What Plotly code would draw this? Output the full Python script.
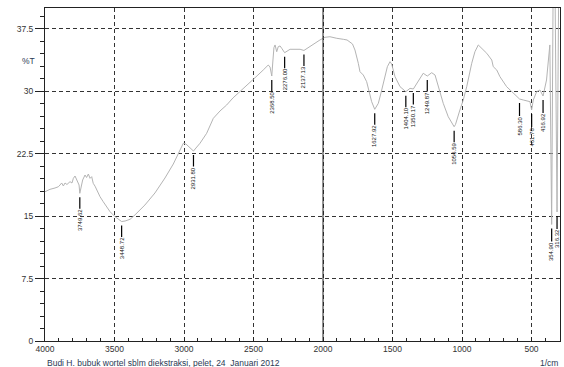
import numpy as np
import plotly.graph_objects as go

# Spectrum (wavenumber 1/cm, %T)
wavenumber = [4000, 3964, 3928, 3904, 3892, 3880, 3868, 3856, 3842, 3820,
              3806, 3796, 3784, 3768, 3755, 3749.6, 3729, 3712, 3701, 3688,
              3676, 3664, 3653, 3640, 3628, 3617, 3604, 3581, 3556, 3532,
              3496, 3460, 3448.7, 3424, 3388, 3353, 3281, 3209, 3137, 3077,
              3029, 3005, 2986, 2957, 2931.8, 2914, 2885, 2837, 2789, 2741,
              2693, 2648, 2597, 2554, 2501, 2468, 2430, 2394, 2381, 2368.5,
              2360, 2353, 2345, 2333, 2322, 2309, 2297, 2276, 2237, 2201,
              2165, 2137.1, 2081, 2050, 2022, 1986, 1950, 1901, 1878, 1854,
              1827, 1806, 1788, 1770, 1755, 1746, 1734, 1710, 1686, 1667,
              1650, 1627.9, 1602, 1583, 1566, 1537, 1518, 1506, 1482, 1446,
              1404.1, 1374, 1350.2, 1331, 1315, 1279, 1249.9, 1218, 1194, 1171,
              1135, 1099, 1056.6, 1047, 1027, 1015, 991, 966, 930, 907,
              883, 858, 822, 786, 775, 750, 727, 679, 631, 595,
              586.3, 559, 535, 511, 499, 487, 463, 439, 416.9, 392,
              368, 354.9, 345, 330, 316.3, 305, 295]
transmittance = [17.93, 18.22, 18.38, 18.53, 18.74, 18.98, 18.62, 18.98, 18.8, 19.14,
                 18.98, 19.54, 19.82, 19.26, 18.74, 17.74, 19.34, 19.94, 19.64, 20.06,
                 19.54, 19.74, 18.94, 18.6, 18.14, 17.9, 17.33, 16.73, 16.13, 15.53,
                 14.93, 14.53, 14.35, 14.41, 14.62, 15.14, 16.34, 17.78, 19.58, 21.26,
                 22.94, 23.75, 23.66, 23.18, 22.82, 23.18, 23.75, 24.95, 26.75, 27.63,
                 28.35, 29.19, 29.95, 30.63, 31.35, 31.95, 32.55, 33.15, 32.91, 31.83,
                 33.75, 35.25, 35.56, 34.75, 35.35, 35.44, 35.16, 34.63, 35.04, 35.08,
                 35.04, 34.9, 35.56, 35.92, 36.16, 36.48, 36.55, 36.36, 36.34, 36.24,
                 36.16, 35.95, 35.68, 34.95, 34.11, 33.36, 32.35, 31.95, 31.15, 29.95,
                 28.75, 27.83, 28.55, 29.79, 30.95, 32.95, 33.55, 33.27, 31.75, 30.55,
                 29.95, 30.35, 30.27, 30.75, 31.15, 32.16, 31.83, 32.23, 31.95, 30.55,
                 28.55, 26.94, 25.74, 26.0, 26.94, 27.75, 28.95, 30.55, 33.36, 34.75,
                 35.56, 35.16, 34.56, 33.75, 32.95, 32.55, 31.75, 30.55, 29.75, 29.15,
                 29.07, 28.95, 28.83, 28.75, 27.75, 28.95, 29.95, 30.15, 29.43, 31.35,
                 35.56, 14.0, 41, 41, 15.5, 41, 41]

peak_labels = ["3749.62", "3448.72", "2931.80", "2368.50", "2276.00", "2137.13",
               "1627.92", "1404.10", "1350.17", "1249.87", "1056.59", "586.30",
               "461.78", "416.92", "354.90", "316.32"]
peak_pos = [3749.6, 3448.7, 2931.8, 2368.5, 2276, 2137.1, 1627.9, 1404.1,
            1350.2, 1249.9, 1056.6, 586.3, 499, 416.9, 354.9, 316.3]

y_ticks = [0, 7.5, 15, 22.5, 30, 37.5]
y_ticktext = ["0", "7.5", "15", "22.5", "30", "37.5"]
x_ticks = [4000, 3500, 3000, 2500, 2000, 1500, 1000, 500]

FONT = "Liberation Sans, Arial, sans-serif"

fig = go.Figure()
fig.add_trace(go.Scatter(x=wavenumber, y=transmittance, mode="lines",
                         line=dict(color="#b4b4b4", width=1), hoverinfo="skip"))

fig.add_vline(x=2000, line=dict(color="#222222", width=1))

wn_arr = np.array(wavenumber)[::-1]
t_arr = np.array(transmittance)[::-1]
for lab, pos in zip(peak_labels, peak_pos):
    yv = float(np.interp(pos, wn_arr, t_arr))
    fig.add_annotation(x=pos, y=yv, text=lab, textangle=-90, showarrow=True,
                       arrowhead=0, arrowwidth=1.2, arrowcolor="#000000",
                       ax=0, ay=27, standoff=4, borderpad=0,
                       font=dict(family=FONT, size=6, color="#111111"))

fig.add_annotation(xref="paper", yref="paper", x=-0.033, y=0.84, text="%T",
                   showarrow=False, xanchor="center", yanchor="middle",
                   font=dict(family=FONT, size=8.5, color="#2b3a55"))
fig.add_annotation(xref="paper", yref="paper", x=0, y=-0.066,
                   text="Budi H. bubuk wortel sblm diekstraksi, pelet, 24  Januari 2012",
                   showarrow=False, xanchor="left", yanchor="middle",
                   font=dict(family=FONT, size=8.5, color="#2b3a55"))
fig.add_annotation(xref="paper", yref="paper", x=1, y=-0.066, text="1/cm",
                   showarrow=False, xanchor="right", yanchor="middle",
                   font=dict(family=FONT, size=8.5, color="#2b3a55"))

fig.update_xaxes(range=[4000, 295], tickvals=x_ticks, ticktext=[str(v) for v in x_ticks],
                 showgrid=True, gridcolor="#333333", gridwidth=1, griddash="4px,3px",
                 zeroline=False, showline=True, linecolor="#222222", linewidth=1,
                 mirror=True, ticks="inside", ticklen=4, tickcolor="#222222",
                 minor=dict(dtick=100, tick0=0, ticks="inside", ticklen=3,
                            tickcolor="#222222", showgrid=False),
                 tickfont=dict(family=FONT, size=8.5, color="#333333"))
fig.update_yaxes(range=[0, 40], tickvals=y_ticks, ticktext=y_ticktext,
                 showgrid=True, gridcolor="#333333", gridwidth=1, griddash="4px,3px",
                 zeroline=False, showline=True, linecolor="#222222", linewidth=1,
                 mirror=True, ticks="outside", ticklen=9, tickcolor="#222222",
                 minor=dict(dtick=1.5, tick0=0, ticks="outside", ticklen=4,
                            tickcolor="#222222", showgrid=False),
                 tickfont=dict(family=FONT, size=8.5, color="#333333"))

fig.update_layout(width=564, height=367, margin=dict(l=45, r=4, t=8, b=26),
                  paper_bgcolor="white", plot_bgcolor="white", showlegend=False)

fig.write_html("out.html")
